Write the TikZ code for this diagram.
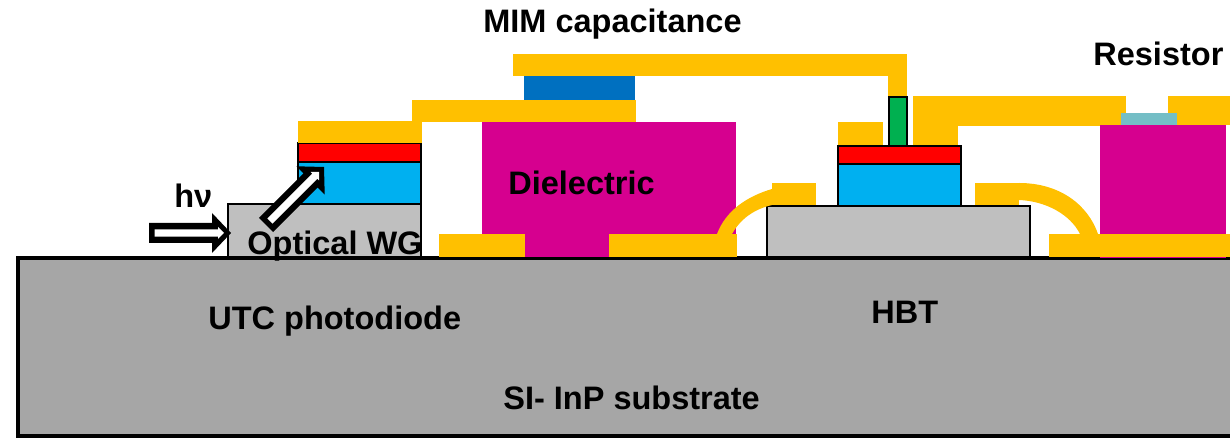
\documentclass[tikz,border=0pt]{standalone}
\usepackage{fontspec}
\setmainfont{Liberation Sans}
\definecolor{metalgold}{HTML}{FFC000}
\definecolor{dielmag}{HTML}{D6008F}
\definecolor{wggray}{HTML}{BFBFBF}
\definecolor{subgray}{HTML}{A6A6A6}
\definecolor{absblue}{HTML}{00B0F0}
\definecolor{capblue}{HTML}{0070C0}
\definecolor{viagreen}{HTML}{00B050}
\definecolor{restea}{HTML}{74BEC6}
\tikzset{
 metal/.style={fill=metalgold},
 diel/.style={fill=dielmag},
 layer/.style={draw=black,line width=0.035cm},
 lbl/.style={anchor=base west,inner sep=0pt,font=\fontsize{18.5}{22}\selectfont\bfseries},
 lightarrow/.pic={
  \fill[black](-82,-10)--(-19,-10)--(-19,-20)--(0,0)--(-19,20)--(-19,10)--(-82,10)--cycle;
  \fill[white](-76.5,-3.7)--(-13,-3.7)--(-13,-6)--(-7,0)--(-13,6)--(-13,3.7)--(-76.5,3.7)--cycle;
 }
}
\begin{document}
\begin{tikzpicture}[x=0.02cm,y=-0.02cm]
 \useasboundingbox (0,0) rectangle (1230,438);
 % substrate
 \draw[fill=subgray,draw=black,line width=0.08cm](18,258)--(1232,258)--(1232,436)--(18,436)--cycle;
 % photodiode
 \draw[layer,fill=wggray](228,204) rectangle (421,257);
 \draw[layer,fill=absblue](298,162) rectangle (421,204);
 \draw[layer,fill=red](298,143) rectangle (421,162);
 \fill[metal](298,121) rectangle (422,143);
 \fill[metal](412,100) rectangle (636,122);
 % dielectric and capacitance
 \fill[diel](482,122) rectangle (736,257);
 \fill[fill=capblue](524,76) rectangle (635,100);
 \fill[metal](513,54) rectangle (907,76);
 \fill[metal](888,54) rectangle (907,97);
 \fill[metal](439,234) rectangle (525,257);
 \fill[metal](609,234) rectangle (737,257);
 % HBT
 \draw[layer,fill=wggray](767,206) rectangle (1030,257);
 \draw[layer,fill=absblue](838,164) rectangle (961,206);
 \draw[layer,fill=red](838,146) rectangle (961,164);
 \draw[layer,fill=viagreen](889,97) rectangle (907,146);
 \fill[metal](838,122) rectangle (883,145);
 \fill[metal](913,96) rectangle (958,145);
 \fill[metal](913,96) rectangle (1126,126);
 \fill[metal](772,183) rectangle (816,205);
 \fill[metal](975,183) rectangle (1019,205);
 \fill[metal](717,234) .. controls (726,210) and (748,196) .. (772,189)--(772,205) .. controls (755,209) and (741,218) .. (732,234)--cycle;
 \fill[metal](1019,183) .. controls (1060,183) and (1088,205) .. (1098,234)--(1080,234) .. controls (1070,214) and (1045,201) .. (1019,200)--cycle;
 % resistor
 \fill[diel](1100,125) rectangle (1226,258);
 \fill[metal](1168,96) rectangle (1230,113);
 \fill[metal](1177,113) rectangle (1230,125);
 \fill[fill=restea](1121,113) rectangle (1177,125);
 \fill[metal](1049,234) rectangle (1230,257);
 % light
 \pic at (231,233) {lightarrow};
 \pic[rotate=45] at (324,167) {lightarrow};
 % labels
 \node[lbl] (mimlabel) at (483,32.5) {MIM capacitance};
 \node[lbl] (reslabel) at (1093,66) {Resistor};
 \node[lbl] (hvlabel) at (174,208) {hν};
 \node[lbl] (diellabel) at (508,194.5) {Dielectric};
 \node[lbl] (wglabel) at (247,255) {Optical WG};
 \node[lbl] (utclabel) at (208,330) {UTC photodiode};
 \node[lbl] (hbtlabel) at (871,324) {HBT};
 \node[lbl] (sublabel) at (503,410) {SI- InP substrate};
\end{tikzpicture}
\end{document}
